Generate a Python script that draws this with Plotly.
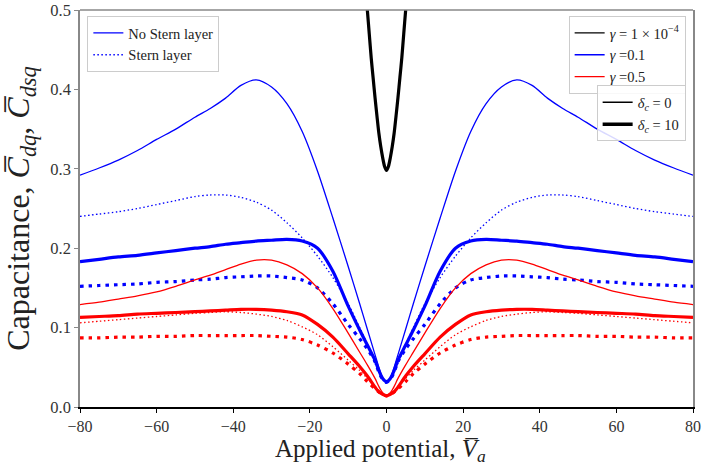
import plotly.graph_objects as go

# Applied potential (non-negative half; the capacitance curves are even in V)
V_HALF = [0, 1, 2, 3, 5, 7, 10, 14, 18, 22, 26, 30, 34, 38, 42, 46, 50, 55, 60, 65, 70, 75, 80]

# gamma = 0.1
blue_d0_nostern = [0.031, 0.036, 0.050, 0.066, 0.098, 0.130, 0.177, 0.238, 0.297, 0.347, 0.382, 0.403,
                   0.412, 0.405, 0.389, 0.376, 0.365, 0.350, 0.337, 0.323, 0.311, 0.301, 0.292]
blue_d0_stern = [0.031, 0.035, 0.044, 0.055, 0.079, 0.100, 0.130, 0.163, 0.190, 0.213, 0.232, 0.248,
                 0.258, 0.264, 0.267, 0.267, 0.265, 0.260, 0.255, 0.250, 0.246, 0.243, 0.240]
blue_d10_nostern = [0.032, 0.036, 0.046, 0.059, 0.078, 0.097, 0.127, 0.171, 0.200, 0.209, 0.211, 0.210,
                    0.209, 0.207, 0.205, 0.202, 0.200, 0.197, 0.194, 0.191, 0.189, 0.186, 0.183]
blue_d10_stern = [0.031, 0.035, 0.044, 0.057, 0.073, 0.086, 0.104, 0.130, 0.150, 0.160, 0.163, 0.165,
                  0.165, 0.164, 0.163, 0.161, 0.160, 0.158, 0.157, 0.155, 0.154, 0.153, 0.152]

# gamma = 0.5
red_d0_nostern = [0.015, 0.018, 0.026, 0.036, 0.053, 0.069, 0.093, 0.124, 0.150, 0.168, 0.179, 0.185,
                  0.185, 0.180, 0.173, 0.166, 0.160, 0.152, 0.145, 0.140, 0.136, 0.132, 0.129]
red_d0_stern = [0.015, 0.017, 0.021, 0.026, 0.036, 0.046, 0.059, 0.076, 0.091, 0.101, 0.109, 0.114,
                0.117, 0.119, 0.120, 0.119, 0.118, 0.116, 0.114, 0.112, 0.110, 0.108, 0.106]
red_d10_nostern = [0.014, 0.016, 0.019, 0.025, 0.039, 0.051, 0.067, 0.088, 0.104, 0.116, 0.120, 0.122,
                   0.123, 0.123, 0.122, 0.121, 0.120, 0.119, 0.118, 0.117, 0.115, 0.114, 0.113]
red_d10_stern = [0.014, 0.016, 0.019, 0.023, 0.032, 0.042, 0.054, 0.068, 0.078, 0.085, 0.088, 0.089,
                 0.090, 0.090, 0.090, 0.090, 0.090, 0.089, 0.089, 0.088, 0.088, 0.087, 0.087]

# gamma = 1e-4 (steep well around V = 0)
V_BLACK_HALF = [0, 0.5, 1, 1.5, 2, 2.5, 3, 3.5, 4, 4.5, 5, 5.5]
black_curve = [0.298, 0.303, 0.314, 0.328, 0.345, 0.367, 0.390, 0.415, 0.440, 0.470, 0.500, 0.530]

X_TICKS = [-80, -60, -40, -20, 0, 20, 40, 60, 80]
Y_TICKS = [0.0, 0.1, 0.2, 0.3, 0.4, 0.5]

BLUE = "#0000ff"
RED = "#ff0000"
BLACK = "#000000"
FONT = "Liberation Serif, Times New Roman, serif"


def full(v_half, c_half):
    """Mirror a half curve about V = 0."""
    v = [-x for x in reversed(v_half[1:])] + list(v_half)
    c = list(reversed(c_half[1:])) + list(c_half)
    return v, c


THIN, THICK = 1.3, 3.2
DOT_THIN = "1.5px,2.5px"
DOT_THICK = "3.5px,5px"

curves = [
    (V_HALF, blue_d0_nostern, BLUE, THIN, "solid"),
    (V_HALF, blue_d0_stern, BLUE, THIN, DOT_THIN),
    (V_HALF, blue_d10_nostern, BLUE, THICK, "solid"),
    (V_HALF, blue_d10_stern, BLUE, THICK, DOT_THICK),
    (V_HALF, red_d0_nostern, RED, THIN, "solid"),
    (V_HALF, red_d0_stern, RED, THIN, DOT_THIN),
    (V_HALF, red_d10_nostern, RED, THICK, "solid"),
    (V_HALF, red_d10_stern, RED, THICK, DOT_THICK),
    (V_BLACK_HALF, black_curve, BLACK, THICK, "solid"),
    (V_BLACK_HALF, black_curve, BLACK, THIN, DOT_THIN),
]

fig = go.Figure()
for vh, ch, color, width, dash in curves:
    v, c = full(vh, ch)
    fig.add_trace(go.Scatter(x=v, y=c, mode="lines", showlegend=False, hoverinfo="skip",
                             line=dict(color=color, width=width, dash=dash, shape="spline", smoothing=0.8)))


# legend-only entries
def legend_entry(name, color, width, dash, legend):
    fig.add_trace(go.Scatter(x=[None], y=[None], mode="lines", name=name, legend=legend,
                             line=dict(color=color, width=width, dash=dash)))


legend_entry("No Stern layer", BLUE, 1.3, "solid", "legend")
legend_entry("Stern layer", BLUE, 1.3, DOT_THIN, "legend")
legend_entry("<i>γ</i> = 1 × 10<sup>−4</sup>", BLACK, 1.3, "solid", "legend2")
legend_entry("<i>γ</i> =0.1", BLUE, 1.3, "solid", "legend2")
legend_entry("<i>γ</i> =0.5", RED, 1.3, "solid", "legend2")
legend_entry("<i>δ<sub>c</sub></i> = 0", BLACK, 1.5, "solid", "legend3")
legend_entry("<i>δ<sub>c</sub></i> = 10", BLACK, 3.5, "solid", "legend3")

legend_style = dict(bgcolor="rgba(255,255,255,0.85)", bordercolor="#cccccc", borderwidth=1,
                    font=dict(family=FONT, size=14.5, color="#222"), itemwidth=30,
                    tracegroupgap=0)

fig.update_layout(
    width=703, height=464,
    margin=dict(l=80, r=10, t=10, b=57),
    paper_bgcolor="white", plot_bgcolor="white",
    font=dict(family=FONT, color="#333"),
    legend=dict(x=0.012, y=0.985, xanchor="left", yanchor="top", **legend_style),
    legend2=dict(x=0.988, y=0.985, xanchor="right", yanchor="top", **legend_style),
    legend3=dict(x=0.988, y=0.81, xanchor="right", yanchor="top", **legend_style),
    xaxis=dict(range=[-80, 80], tickvals=X_TICKS, ticks="outside", ticklen=4, tickcolor="#000",
               showline=True, linecolor="#000", linewidth=1.5, showgrid=False, zeroline=False,
               automargin=False,
               tickfont=dict(family=FONT, size=16, color="#333")),
    yaxis=dict(range=[0, 0.5], tickvals=Y_TICKS, tickformat=".1f", ticks="outside", ticklen=4,
               tickcolor="#888", showline=True, linecolor="#888", linewidth=1.5, mirror=True,
               showgrid=False, zeroline=False, automargin=False,
               tickfont=dict(family=FONT, size=16.5, color="#333"),
               title=dict(text="Capacitance, <i>C̅<sub>dq</sub></i>, <i>C̅<sub>dsq</sub></i>",
                          font=dict(family=FONT, size=32, color="#222"))),
    annotations=[dict(text="Applied potential, <i>V̅<sub>a</sub></i>", xref="paper", yref="paper",
                      x=0.49, y=0, xanchor="center", yanchor="middle", yshift=-43.5, showarrow=False,
                      borderpad=0, font=dict(family=FONT, size=25, color="#222"))],
    shapes=[dict(type="line", xref="paper", yref="paper", x0=0, x1=1, y0=1, y1=1,
                 line=dict(color="#888", width=1.5))],
)

fig.write_html("out.html")
